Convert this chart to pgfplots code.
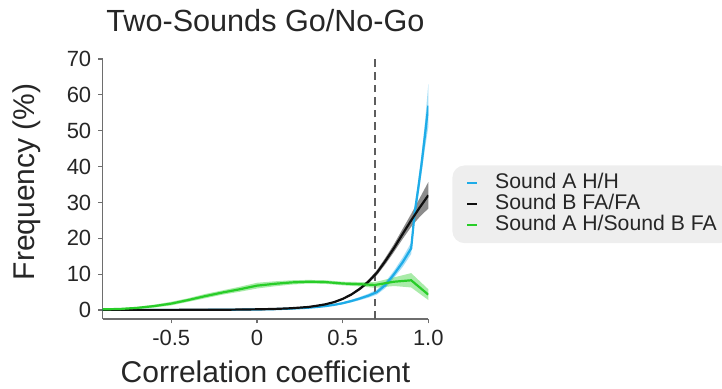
\documentclass[border=0pt]{standalone}
\usepackage{fontspec}
\setmainfont{Liberation Sans}
\usepackage{pgfplots}
\usepackage{pgfplotstable}
\pgfplotsset{compat=1.18}
\usepgfplotslibrary{fillbetween}

\definecolor{cblue}{RGB}{30,172,232}
\definecolor{cgreen}{RGB}{40,205,40}
\definecolor{cblack}{RGB}{15,15,15}
\definecolor{axgray}{RGB}{110,110,110}
\definecolor{leggray}{RGB}{238,238,238}

% x  y  e (half-width of shaded band)
\pgfplotstableread{
x y e
-0.90 0.05 0.05
-0.60 0.05 0.05
-0.30 0.05 0.05
-0.20 0.08 0.05
-0.10 0.12 0.06
0.00 0.15 0.08
0.10 0.25 0.10
0.20 0.40 0.12
0.30 0.65 0.15
0.35 0.85 0.18
0.40 1.10 0.20
0.45 1.45 0.25
0.50 1.90 0.30
0.55 2.50 0.35
0.60 3.20 0.45
0.65 4.00 0.55
0.70 5.00 0.70
0.75 7.00 0.85
0.80 10.0 1.00
0.85 13.3 1.30
0.90 17.2 1.60
0.91 22.0 1.80
0.92 27.0 2.00
0.94 33.5 2.30
0.96 40.5 2.70
0.98 48.5 3.60
1.00 57.0 6.00
}\blueT

\pgfplotstableread{
x y e
-0.90 0.05 0.05
-0.50 0.05 0.05
-0.20 0.08 0.05
0.00 0.20 0.06
0.10 0.30 0.07
0.20 0.50 0.08
0.30 0.85 0.10
0.35 1.20 0.12
0.40 1.60 0.15
0.45 2.20 0.20
0.50 3.10 0.25
0.55 4.30 0.30
0.60 5.90 0.40
0.65 7.90 0.50
0.70 10.4 0.70
0.75 13.7 0.90
0.80 17.3 1.10
0.85 21.2 1.40
0.90 25.0 1.80
0.95 28.6 2.60
1.00 32.0 3.70
}\blackT

\pgfplotstableread{
x y e
-0.90 0.20 0.15
-0.80 0.30 0.20
-0.70 0.60 0.30
-0.60 1.10 0.40
-0.50 1.80 0.50
-0.40 2.80 0.50
-0.30 3.90 0.60
-0.20 4.90 0.60
-0.10 5.80 0.70
0.00 6.80 0.80
0.10 7.30 0.70
0.20 7.70 0.60
0.30 7.90 0.50
0.40 7.80 0.50
0.50 7.40 0.50
0.60 7.20 0.60
0.69 7.00 0.80
0.80 7.90 1.20
0.90 8.30 2.00
1.00 4.30 1.50
}\greenT

\begin{document}
\begin{tikzpicture}
\begin{axis}[
  scale only axis,
  width=162.8pt, height=130pt,
  xmin=-0.9, xmax=1.0, ymin=-2.5, ymax=70,
  axis lines=left,
  axis line style={axgray, line width=0.6pt, -},
  tick style={axgray, line width=0.6pt},
  major tick length=2.2pt,
  tick align=outside,
  xtick={-0.5,0,0.5,1}, xticklabels={-0.5,0,0.5,1.0},
  ytick={0,10,20,30,40,50,60,70},
  /pgf/number format/assume math mode=true,
  ticklabel style={font=\fontsize{11}{13}\selectfont, color=black!85},
  title={Two-Sounds Go/No-Go},
  title style={font=\fontsize{15.3}{18}\selectfont, color=black!85, at={(axis description cs:0.5,1.10)}, anchor=center},
  xlabel={Correlation coefficient},
  xlabel style={font=\fontsize{15}{18}\selectfont, color=black!85, at={(axis description cs:0.5,-0.204)}, anchor=center},
  ylabel={Frequency (\%)},
  ylabel style={font=\fontsize{15}{18}\selectfont, color=black!85, at={(axis description cs:-0.2334,0.528)}, anchor=center},
  legend cell align=left,
  legend image code/.code={\draw[#1, line width=1pt] (0pt,0pt) -- (5pt,0pt);},
  legend style={at={(axis description cs:1.0728,0.592)}, anchor=north west,
    fill=leggray, draw=none, rounded corners=6pt,
    font=\fontsize{10.6}{12}\selectfont, text=black!85,
    inner xsep=7pt, inner ysep=3.5pt, row sep=0pt,
    nodes={inner sep=0.4pt, text height=7.6pt, text depth=2.2pt, anchor=west},
    /tikz/every odd column/.append style={column sep=8pt}},
]
% bands
\addplot[name path=bu, draw=none, forget plot] table[x=x, y expr=\thisrow{y}+\thisrow{e}]{\blueT};
\addplot[name path=bl, draw=none, forget plot] table[x=x, y expr=\thisrow{y}-\thisrow{e}]{\blueT};
\addplot[cblue, fill opacity=0.4, draw=none, forget plot] fill between[of=bu and bl];
\addplot[name path=ku, draw=none, forget plot] table[x=x, y expr=\thisrow{y}+\thisrow{e}]{\blackT};
\addplot[name path=kl, draw=none, forget plot] table[x=x, y expr=\thisrow{y}-\thisrow{e}]{\blackT};
\addplot[black, fill opacity=0.45, draw=none, forget plot] fill between[of=ku and kl];
\addplot[name path=gu, draw=none, forget plot] table[x=x, y expr=\thisrow{y}+\thisrow{e}]{\greenT};
\addplot[name path=gl, draw=none, forget plot] table[x=x, y expr=\thisrow{y}-\thisrow{e}]{\greenT};
\addplot[cgreen, fill opacity=0.4, draw=none, forget plot] fill between[of=gu and gl];
% dashed threshold
\addplot[color=axgray!85!black, line width=0.7pt, dash pattern=on 3.8pt off 2.5pt, forget plot] coordinates {(0.69,-2.5) (0.69,70)};
% lines
\addplot[cblue, line width=1.1pt] table[x=x, y=y]{\blueT};
\addlegendentry{Sound A H/H}
\addplot[cblack, line width=1.1pt] table[x=x, y=y]{\blackT};
\addlegendentry{Sound B FA/FA}
\addplot[cgreen, line width=1.1pt] table[x=x, y=y]{\greenT};
\addlegendentry{Sound A H/Sound B FA}
\end{axis}
\pgfresetboundingbox
\useasboundingbox (-51.35pt,-34.5pt) rectangle (309.65pt,159.5pt);
\end{tikzpicture}
\end{document}
